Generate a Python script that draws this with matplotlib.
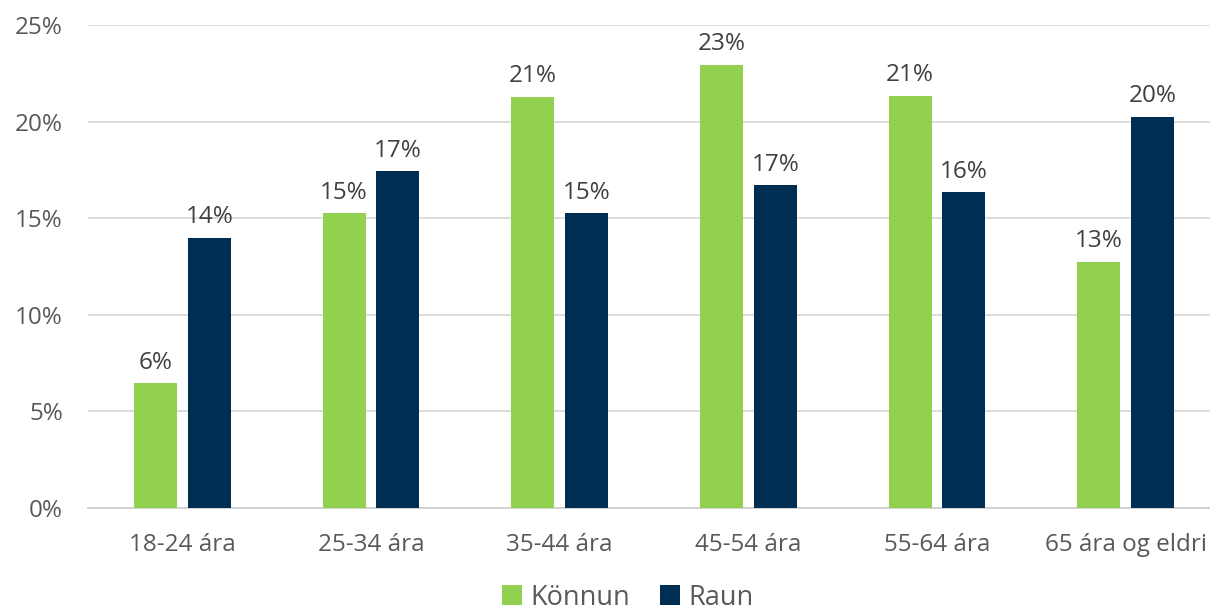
import numpy as np
import matplotlib
matplotlib.use('Agg')
from matplotlib import pyplot as plt
from matplotlib.ticker import FuncFormatter

# data
categories=['18-24 ára','25-34 ára','35-44 ára','45-54 ára','55-64 ára','65 ára og eldri']
konnun=[6.45,15.25,21.3,22.95,21.35,12.75]
raun=[14.0,17.45,15.25,16.7,16.35,20.25]
series_names=['Könnun','Raun']

green='#92D050'
navy='#002D52'
txt='#595959'

plt.rcParams['font.family']=['Open Sans','DejaVu Sans']

fig=plt.figure(figsize=(12.1,6.14),dpi=100)
ax=fig.add_axes([88/1210,0.1726,1132/1210,0.7866])

x=np.arange(len(categories))
w=0.228
off=0.143
b1=ax.bar(x-off,konnun,w,color=green,label=series_names[0],zorder=3)
b2=ax.bar(x+off,raun,w,color=navy,label=series_names[1],zorder=3)

for bars,vals in ((b1,konnun),(b2,raun)):
    for bar,v in zip(bars,vals):
        ax.annotate('{0:.0f}%'.format(v),(bar.get_x()+bar.get_width()/2,v),
                    xytext=(0,6),textcoords='offset points',ha='center',va='bottom',
                    fontsize=17.5,color='#404040')

ax.set_ylim(0,25)
ax.set_xlim(-0.5,len(categories)-0.5)
ax.set_yticks(np.arange(0,26,5))
ax.yaxis.set_major_formatter(FuncFormatter(lambda v,p:'{0:.0f}%'.format(v)))
ax.set_xticks(x)
ax.set_xticklabels(categories)
ax.grid(axis='y',color='#D9D9D9',linewidth=1.3,zorder=0)
for s in ['top','right','left']:
    ax.spines[s].set_visible(False)
ax.spines['bottom'].set_color('#D0D0D0')
ax.spines['bottom'].set_linewidth(1.3)
ax.tick_params(axis='both',length=0,labelsize=17.5,colors=txt)
ax.tick_params(axis='x',pad=18)
ax.tick_params(axis='y',pad=18)

# legend sits on the bottom edge like in the reference, kept just inside
fig.legend(loc='lower center',bbox_to_anchor=(628/1210,-0.036),ncol=2,frameon=False,
           fontsize=19.5,labelcolor=txt,handlelength=0.75,handleheight=0.75,
           handletextpad=0.3,columnspacing=1.1)

fig.savefig('out.png',dpi=100)
